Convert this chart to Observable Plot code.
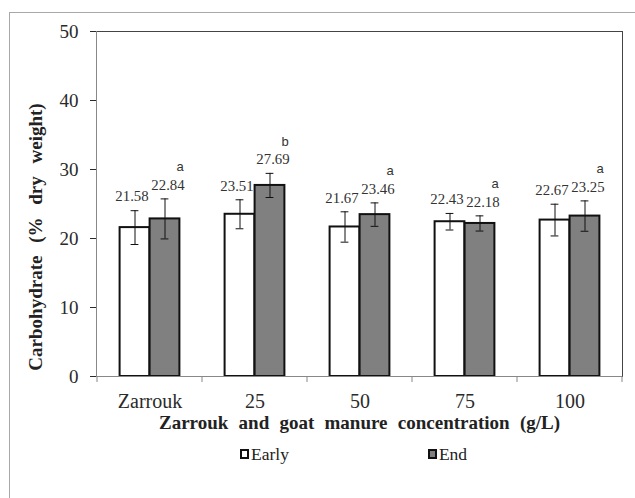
<!DOCTYPE html>
<html>
<head>
<meta charset="utf-8">
<script src="https://cdn.jsdelivr.net/npm/d3@7"></script>
<script src="https://cdn.jsdelivr.net/npm/@observablehq/plot@0.6"></script>
<style>
  html, body { margin: 0; padding: 0; background: #fff; overflow: hidden; }
  #wrap { position: relative; width: 635px; height: 498px; font-family: "Liberation Serif", "Times New Roman", serif; }
  #border { position: absolute; left: 9px; top: 12px; width: 660px; height: 520px; border: 1px solid #a8a8a8; }
  #chart { position: absolute; left: 0; top: 0; }
  #legend { position: absolute; left: 240px; top: 443px; display: flex; gap: 139px; font-size: 17.5px; color: #222; line-height: 22px; }
  .item { display: flex; align-items: center; gap: 2px; }
  .sw { width: 5px; height: 6px; border: 2px solid #111; display: inline-block; }
</style>
</head>
<body>
<div id="wrap">
  <div id="border"></div>
  <div id="chart"></div>
  <div id="legend"></div>
</div>
<script>
const categories = ["Zarrouk", "25", "50", "75", "100"];
const seriesNames = ["Early", "End"];
const earlyValues = [21.58, 23.51, 21.67, 22.43, 22.67];
const endValues = [22.84, 27.69, 23.46, 22.18, 23.25];
const earlySd = [2.45, 2.1, 2.2, 1.2, 2.3];
const endSd = [2.9, 1.75, 1.7, 1.1, 2.2];
const endLetters = ["a", "b", "a", "a", "a"];
const yTicks = [0, 10, 20, 30, 40, 50];
const yTitle = "Carbohydrate (% dry weight)";
const xTitle = "Zarrouk and goat manure concentration (g/L)";

const W = 635, H = 440;
const mL = 96, mR = 13, mT = 31, mB = 64;
const bw = (W - mL - mR) / categories.length;
const barW = 30;

const early = categories.map((c, i) => ({cat: c, v: earlyValues[i], sd: earlySd[i]}));
const end = categories.map((c, i) => ({cat: c, v: endValues[i], sd: endSd[i], letter: endLetters[i]}));

const serif = "'Liberation Serif', 'Times New Roman', serif";
const dark = "#111";

const plot = Plot.plot({
  width: W, height: H,
  marginLeft: mL, marginRight: mR, marginTop: mT, marginBottom: mB,
  style: {fontFamily: serif, fontSize: "19px", color: "#2a2a2a", background: "transparent"},
  x: {type: "band", domain: categories, padding: 0, tickSize: 0, tickPadding: 17, label: null},
  y: {domain: [0, 50], ticks: yTicks, tickSize: 6, tickPadding: 12, label: null},
  marks: [
    Plot.frame({stroke: "#444"}),
    Plot.barY(early, {x: "cat", y: "v", fill: "white", stroke: dark, strokeWidth: 2,
      insetLeft: bw / 2 - barW, insetRight: bw / 2}),
    Plot.barY(end, {x: "cat", y: "v", fill: "#808080", stroke: dark, strokeWidth: 2,
      insetLeft: bw / 2, insetRight: bw / 2 - barW}),
    Plot.ruleY([0], {stroke: "#888"}),
    // error bars
    Plot.ruleX(early, {x: "cat", y1: d => d.v - d.sd, y2: d => d.v + d.sd, stroke: dark, strokeWidth: 1, dx: -barW / 2}),
    Plot.ruleX(end, {x: "cat", y1: d => d.v - d.sd, y2: d => d.v + d.sd, stroke: dark, strokeWidth: 1, dx: barW / 2}),
    ...[early, end].flatMap((data, k) => {
      const c = k === 0 ? -barW / 2 : barW / 2;
      const capL = bw / 2 + c - 4, capR = bw / 2 - c - 4;
      return [
        Plot.tickY(data, {x: "cat", y: d => d.v + d.sd, stroke: dark, strokeWidth: 1, insetLeft: capL, insetRight: capR}),
        Plot.tickY(data, {x: "cat", y: d => d.v - d.sd, stroke: dark, strokeWidth: 1, insetLeft: capL, insetRight: capR})
      ];
    }),
    // value labels
    Plot.text(early, {x: "cat", y: d => d.v + d.sd, text: d => d.v.toFixed(2), dx: -barW / 2 - 3, dy: -14,
      fontSize: 14.8, fill: "#333", fontFamily: serif}),
    Plot.text(end, {x: "cat", y: d => d.v + d.sd, text: d => d.v.toFixed(2), dx: barW / 2 + 3, dy: -14,
      fontSize: 14.8, fill: "#333", fontFamily: serif}),
    Plot.text(end, {x: "cat", y: d => d.v + d.sd, text: "letter", dx: barW / 2 + 15, dy: -32,
      fontSize: 13, fill: "#333", fontFamily: "'Liberation Sans', Arial, sans-serif"}),
    // axis titles
    Plot.text([yTitle], {frameAnchor: "left", textAnchor: "middle", dx: -61, dy: 33, rotate: -90, text: d => d,
      fontWeight: "bold", fontSize: 19, fill: "#222", fontFamily: serif}),
    Plot.text([xTitle], {frameAnchor: "bottom", textAnchor: "middle", dy: 52.5, text: d => d,
      fontWeight: "bold", fontSize: 19, fill: "#222", fontFamily: serif})
  ]
});

// axis lines and category boundary ticks drawn from the x scale
const xs = plot.scale("x");
const svg = d3.select(plot);
const texts = svg.selectAll("text").filter(function () { return this.textContent === yTitle || this.textContent === xTitle; });
texts.style("word-spacing", function () { return this.textContent === yTitle ? "8px" : "5.5px"; });
svg.selectAll('g[aria-label^="x-axis"]').attr("font-size", 20);
const g = svg.append("g").attr("stroke", "#888").attr("fill", "none");
const [r0, r1] = xs.range;
g.append("line").attr("x1", r0 + 0.5).attr("x2", r0 + 0.5).attr("y1", mT).attr("y2", H - mB);
const bounds = categories.map(c => xs.apply(c)).concat([r1]);
bounds.forEach(b => {
  g.append("line").attr("x1", b).attr("x2", b).attr("y1", H - mB).attr("y2", H - mB + 6);
});

document.getElementById("chart").appendChild(plot);

// legend
const legend = d3.select("#legend");
const fills = ["white", "#808080"];
seriesNames.forEach((n, i) => {
  const it = legend.append("div").attr("class", "item");
  it.append("span").attr("class", "sw").style("background", fills[i]);
  it.append("span").text(n);
});
</script>
</body>
</html>
